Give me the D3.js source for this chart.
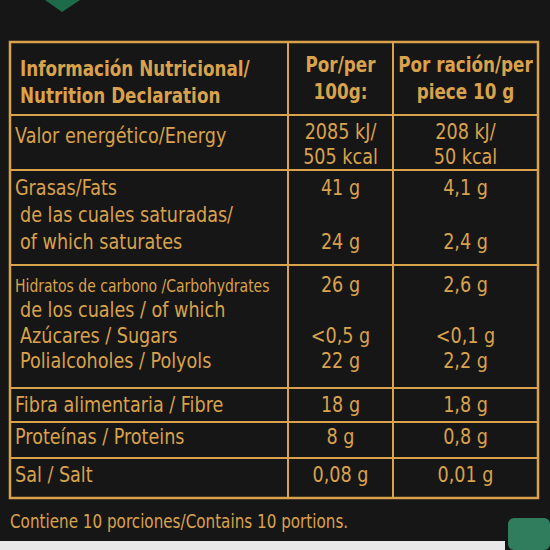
<!DOCTYPE html>
<html><head><meta charset="utf-8">
<script src="https://cdn.jsdelivr.net/npm/d3@7"></script>
<style>body{margin:0;background:#151515}svg{display:block}</style>
</head><body><svg id="c" width="550" height="550"></svg>
<script>
const headers = [["Información Nutricional/","Nutrition Declaration"],["Por/per","100g:"],["Por ración/per","piece 10 g"]];
const rowLabels = [
  [["Valor energético/Energy",0]],
  [["Grasas/Fats",0],["de las cuales saturadas/",1],["of which saturates",1]],
  [["Hidratos de carbono /Carbohydrates",0],["de los cuales / of which",1],["Azúcares / Sugars",1],["Polialcoholes / Polyols",1]],
  [["Fibra alimentaria / Fibre",0]],
  [["Proteínas / Proteins",0]],
  [["Sal / Salt",0]]
];
const per100 = [["2085 kJ/","505 kcal"],["41 g","","24 g"],["26 g","","<0,5 g","22 g"],["18 g"],["8 g"],["0,08 g"]];
const perPiece = [["208 kJ/","50 kcal"],["4,1 g","","2,4 g"],["2,6 g","","<0,1 g","2,2 g"],["1,8 g"],["0,8 g"],["0,01 g"]];
const footer = "Contiene 10 porciones/Contains 10 portions.";

const gold = "#d9a24c", font = "'DejaVu Sans','Roboto',sans-serif";
const SX = 0.8;
const svg = d3.select("#c");
svg.append("rect").attr("width",550).attr("height",550).attr("fill","#161616");
svg.append("path").attr("d","M45,0 L80,0 L62,12 Z").attr("fill","#1e6b4a");
svg.append("rect").attr("x",508).attr("y",518).attr("width",42).attr("height",32).attr("rx",6).attr("fill","#2f7d5c");
svg.append("rect").attr("x",0).attr("y",541).attr("width",505).attr("height",9).attr("fill","#e8e8e8");

const x = d3.scaleLinear().domain([0,1,2,3]).range([10,288,393,538]);
const bounds = [42,115,170,265,388,422,458,498];
const y = d3.scaleLinear().domain(d3.range(bounds.length)).range(bounds);
const lineStep = [0,27,27,25.5,34,34,34];
const first = [0,143,195,292,412,444,482];

const g = svg.append("g");
g.append("rect").attr("x",x(0)).attr("y",y(0)).attr("width",x(3)-x(0)).attr("height",y(7)-y(0))
 .attr("fill","none").attr("stroke",gold).attr("stroke-width",2.5);
d3.range(1,7).forEach(i=>g.append("line").attr("x1",x(0)).attr("x2",x(3)).attr("y1",y(i)).attr("y2",y(i)).attr("stroke",gold).attr("stroke-width",2));
[1,2].forEach(i=>g.append("line").attr("x1",x(i)).attr("x2",x(i)).attr("y1",y(0)).attr("y2",y(7)).attr("stroke",gold).attr("stroke-width",2));

const tg = svg.append("g").attr("transform",`scale(${SX},1)`);
const t = (s,xx,yy,opt={}) => tg.append("text").text(s).attr("x",xx/SX).attr("y",yy).attr("fill",gold)
  .attr("font-family",font).attr("font-size",opt.size||22).attr("font-weight",opt.bold?"bold":"normal")
  .attr("text-anchor",opt.anchor||"start");

headers[0].forEach((s,i)=>t(s,20,76+i*27,{bold:true,size:21}));
headers[1].forEach((s,i)=>t(s,(x(1)+x(2))/2,72+i*27,{bold:true,anchor:"middle",size:21}));
headers[2].forEach((s,i)=>t(s,(x(2)+x(3))/2,72+i*27,{bold:true,anchor:"middle",size:21}));

rowLabels.forEach((lines,r)=>{
  const step = r===0?21:lineStep[r+1];
  lines.forEach(([s,ind],k)=>t(s,ind?20:15,first[r+1]+k*step,{size: s.length>30?17.5:22}));
  per100[r].forEach((s,k)=>{ if(s) t(s,(x(1)+x(2))/2,(r===0?139:first[r+1])+k*(r===0?25:step),{anchor:"middle",size:22}); });
  perPiece[r].forEach((s,k)=>{ if(s) t(s,(x(2)+x(3))/2,(r===0?139:first[r+1])+k*(r===0?25:step),{anchor:"middle",size:22}); });
});
t(footer,10,528,{size:19});
</script></body></html>
